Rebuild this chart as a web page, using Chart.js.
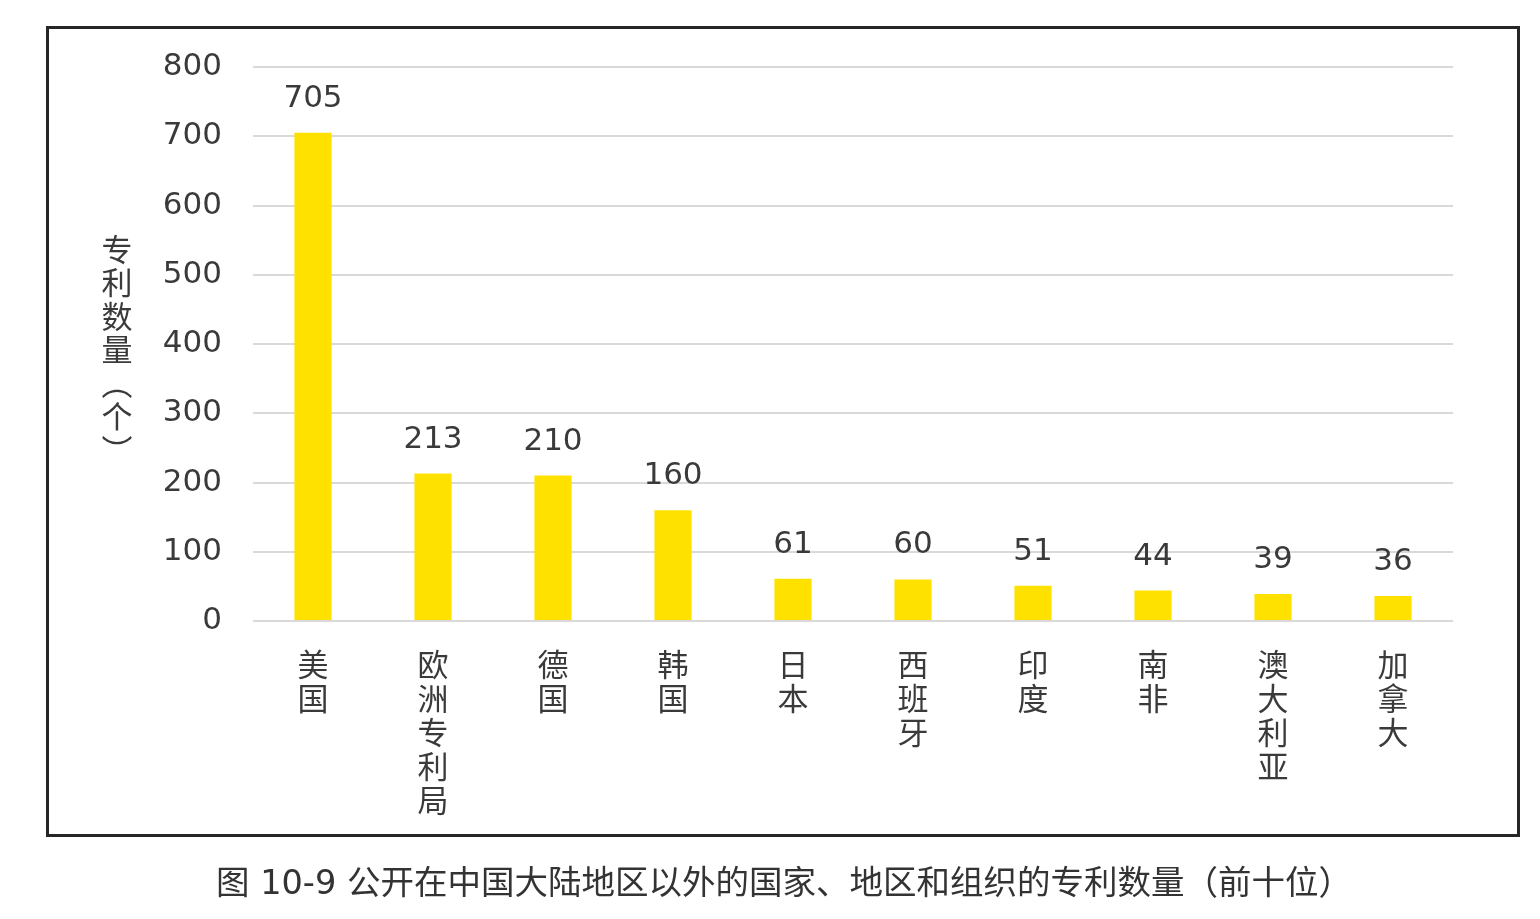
<!DOCTYPE html>
<html>
<head>
<meta charset="utf-8">
<script src="https://cdn.jsdelivr.net/npm/chart.js@4/dist/chart.umd.min.js"></script>
<style>
  html, body { margin: 0; padding: 0; background: #ffffff; }
  #wrap { position: relative; width: 1540px; height: 919px; overflow: hidden; }
  #frame { position: absolute; left: 46px; top: 26px; width: 1474px; height: 811px; box-sizing: border-box; border: 3px solid #262626; }
  #c { position: absolute; left: 0; top: 0; }
  #caption { position: absolute; left: 10px; top: 855px; width: 1548px; text-align: center;
    font-family: "DejaVu Sans", "Noto Sans CJK SC", sans-serif; font-size: 33.5px; color: #333333; white-space: nowrap; }
</style>
</head>
<body>
<div id="wrap">
  <div id="frame"></div>
  <canvas id="c" width="1540" height="919"></canvas>
  <div id="caption">图 10-9 公开在中国大陆地区以外的国家、地区和组织的专利数量（前十位）</div>
</div>
<script>
const categories = ['美国', '欧洲专利局', '德国', '韩国', '日本', '西班牙', '印度', '南非', '澳大利亚', '加拿大'];
const patentCounts = [705, 213, 210, 160, 61, 60, 51, 44, 39, 36];
const yAxisTitle = ['专', '利', '数', '量', '︵', '个', '︶'];
const yMin = 0;
const yMax = 800;
const yStep = 100;

const textColor = '#3a3a3a';
const numFont = '"DejaVu Sans", Verdana, sans-serif';
const cjkFont = '"Noto Sans CJK SC", sans-serif';

const valueLabels = {
  id: 'valueLabels',
  afterDatasetsDraw(chart) {
    const ctx = chart.ctx;
    const meta = chart.getDatasetMeta(0);
    ctx.save();
    ctx.font = '31px ' + numFont;
    ctx.fillStyle = textColor;
    ctx.textAlign = 'center';
    ctx.textBaseline = 'middle';
    meta.data.forEach((bar, i) => {
      ctx.fillText(String(patentCounts[i]), bar.x, bar.y - 34);
    });
    ctx.restore();
  }
};

const yTitle = {
  id: 'yTitle',
  afterDraw(chart) {
    const ctx = chart.ctx;
    const area = chart.chartArea;
    ctx.save();
    ctx.font = '31px ' + cjkFont;
    ctx.fillStyle = textColor;
    ctx.textAlign = 'center';
    ctx.textBaseline = 'middle';
    const x = area.left - 136;
    let y = 249;
    yAxisTitle.forEach(ch => {
      ctx.fillText(ch, x, y);
      y += 33.5;
    });
    ctx.restore();
  }
};

new Chart(document.getElementById('c'), {
  type: 'bar',
  data: {
    labels: categories.map(s => Array.from(s)),
    datasets: [{
      data: patentCounts,
      backgroundColor: '#FFE100',
      borderWidth: 0,
      barPercentage: 0.31,
      categoryPercentage: 1.0
    }]
  },
  options: {
    responsive: false,
    devicePixelRatio: 1,
    animation: false,
    layout: { padding: { left: 0, right: 87, top: 67, bottom: 0 } },
    plugins: {
      legend: { display: false },
      tooltip: { enabled: false },
      title: { display: false }
    },
    scales: {
      x: {
        grid: { display: false, drawTicks: false },
        border: { display: false },
        ticks: {
          color: textColor,
          font: { family: cjkFont, size: 31, lineHeight: '34px' },
          padding: 26,
          maxRotation: 0,
          minRotation: 0,
          autoSkip: false
        },
        afterFit(scale) { scale.height = 919 - 621; }
      },
      y: {
        min: yMin,
        max: yMax,
        grid: { color: '#d9d9d9', lineWidth: 2, drawTicks: false },
        border: { display: false },
        ticks: {
          stepSize: yStep,
          color: textColor,
          font: { family: numFont, size: 31 },
          padding: 31
        },
        afterFit(scale) { scale.width = 253; }
      }
    }
  },
  plugins: [valueLabels, yTitle]
});
</script>
</body>
</html>
